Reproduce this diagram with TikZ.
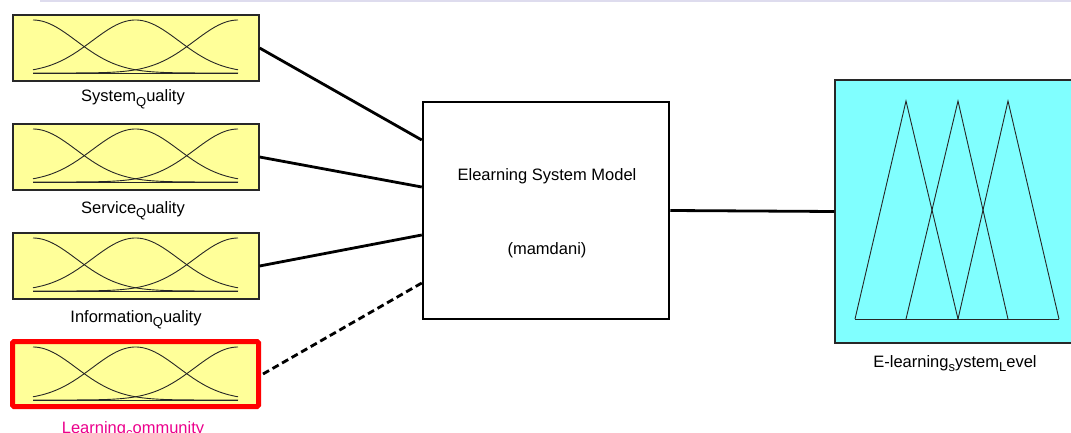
\documentclass[tikz,border=0pt]{standalone}
\usepackage{fontspec}
\setmainfont{Liberation Sans}
\definecolor{mfyellow}{RGB}{255,255,153}
\definecolor{mfcyan}{RGB}{128,255,255}
\definecolor{boxedge}{RGB}{40,40,40}
\definecolor{topband}{RGB}{222,220,238}
\newcommand\lowsub[1]{\raisebox{-0.5ex}{\fontsize{13}{13}\selectfont #1}}
\newcommand\mfset[3]{% #1 left x, #2 top y, #3 base y
  \draw[mfline] (#1,#3) -- ++(205,0);
  \foreach \c in {0,102.5,205}{
    \draw[mfline] plot[domain=0:205,samples=70,smooth] ({#1+\x},{#3-(#3-#2)*exp(-0.5*((\x-\c)/43.3)^2)});
  }}
\begin{document}
\begin{tikzpicture}[x=1pt,y=-1pt,
  inbox/.style={draw=boxedge,line width=1.2pt,fill=mfyellow,minimum width=246pt,minimum height=66pt,inner sep=0pt},
  selbox/.style={draw=red,line width=5pt,fill=mfyellow,rounded corners=1.5pt,minimum width=246pt,minimum height=65pt,inner sep=0pt},
  fisbox/.style={draw=black,line width=2.5pt,fill=white,minimum width=246pt,minimum height=217pt,inner sep=0pt},
  outbox/.style={draw=boxedge,line width=1.2pt,fill=mfcyan,minimum width=240pt,minimum height=263pt,inner sep=0pt},
  mfline/.style={draw=black!85,line width=0.9pt},
  conn/.style={draw=black,line width=2.8pt},
  lbl/.style={font=\fontsize{16.5}{18}\selectfont,text=black,inner sep=0pt,anchor=base}]
\clip (0,0) rectangle (1071,433);
\fill[white] (0,0) rectangle (1071,433);
\fill[topband] (40,0) rectangle (1071,2);

% input boxes
\node[inbox] (in1) at (136,48) {};
\node[inbox] (in2) at (136,157) {};
\node[inbox] (in3) at (136,266) {};
\node[selbox] (in4) at (135.5,374) {};
\mfset{33}{20}{73}
\mfset{33}{129}{182}
\mfset{33}{238}{291}
\mfset{33}{347}{400}

\node[lbl] (l1) at (133,102) {System\lowsub{Q}uality};
\node[lbl] (l2) at (133,213) {Service\lowsub{Q}uality};
\node[lbl] (l3) at (136,322) {Information\lowsub{Q}uality};
\node[lbl,text=magenta] (l4) at (133,433) {Learning\lowsub{c}ommunity};

% FIS box
\node[fisbox] (fis) at (546,210.5) {};
\node[lbl] (t1) at (547,180) {Elearning System Model};
\node[lbl] (t2) at (547,254) {(mamdani)};

% output box
\node[outbox] (out) at (955,211.5) {};
\draw[mfline] (855,319) -- (1059,319);
\draw[mfline] (855,319) -- (906,101) -- (958,319);
\draw[mfline] (906,319) -- (958,101) -- (1008,319);
\draw[mfline] (958,319) -- (1008,101) -- (1059,319);
\node[lbl] (l5) at (955,367) {E-learning\lowsub{s}ystem\lowsub{L}evel};

% connectors
\draw[conn] (in1.east) -- ([yshift=70.5pt]fis.west);
\draw[conn] (in2.east) -- ([yshift=23.5pt]fis.west);
\draw[conn] (in3.east) -- ([yshift=-24.5pt]fis.west);
\draw[conn,dash pattern=on 7pt off 4pt] ([xshift=2pt]in4.east) -- ([yshift=-72.5pt]fis.west);
\draw[conn] (fis.east) -- (out.west);
\end{tikzpicture}
\end{document}
